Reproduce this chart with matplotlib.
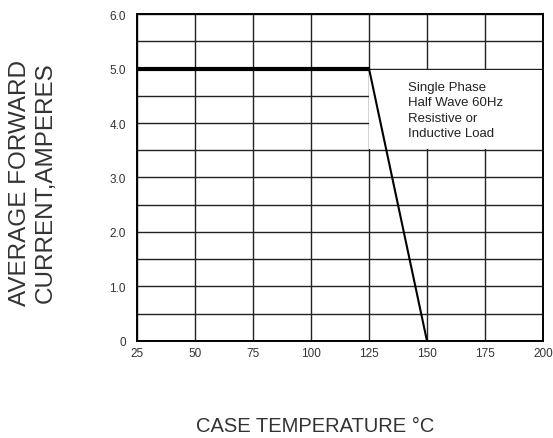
import matplotlib
matplotlib.use('Agg')
import matplotlib.pyplot as plt
import matplotlib.patches as patches
import numpy as np

# derating curve
temp = [25, 125, 150]
current = [5.0, 5.0, 0.0]

xticks = [25, 50, 75, 100, 125, 150, 175, 200]
yticks = [0, 1.0, 2.0, 3.0, 4.0, 5.0, 6.0]
ytick_labels = ['0', '1.0', '2.0', '3.0', '4.0', '5.0', '6.0']
note = 'Single Phase\nHalf Wave 60Hz\nResistive or\nInductive Load'

plt.rcParams['font.family'] = ['Liberation Sans', 'DejaVu Sans']

fig = plt.figure(figsize=(5.53, 4.39), dpi=100)
ax = fig.add_axes([0.2477, 0.2210, 0.7342, 0.7448])

ax.set_xlim(25, 200)
ax.set_ylim(0, 6)
ax.set_xticks(xticks)
ax.set_yticks(yticks)
ax.set_yticklabels(ytick_labels)
ax.set_yticks(np.arange(0, 6.01, 0.5), minor=True)
ax.tick_params(which='both', length=0)
ax.tick_params(axis='x', pad=4, labelsize=8.5, labelcolor='#333333')
ax.tick_params(axis='y', pad=8, labelsize=8.5, labelcolor='#333333')

ax.set_axisbelow(True)
ax.grid(True, which='both', color='#222222', lw=1.0)
for s in ax.spines.values():
    s.set_linewidth(1.4)
    s.set_color('black')

# white box behind the note
box = patches.Rectangle((125.0, 3.52), 74.7, 1.46, facecolor='white',
                        edgecolor='none', zorder=1)
ax.add_patch(box)

# curve
ax.plot(temp[:2], current[:2], color='black', lw=3.0, zorder=3,
        solid_capstyle='butt')
ax.plot(temp[1:], current[1:], color='black', lw=1.5, zorder=3)

ax.text(141.8, 4.24, note, ha='left', va='center', fontsize=9.5,
        color='#222222', linespacing=1.36, zorder=4)

# axis labels
fig.text(33 / 553, 1 - 183 / 439, 'AVERAGE FORWARD\nCURRENT,AMPERES',
         rotation=90, ha='center', va='center', multialignment='center',
         fontsize=17.5, color='#333333', linespacing=1.18)
fig.text(315 / 553, 1 - 427 / 439, 'CASE TEMPERATURE \u00b0C',
         ha='center', va='center', fontsize=14.5, color='#333333')

fig.savefig('out.png', dpi=100)
